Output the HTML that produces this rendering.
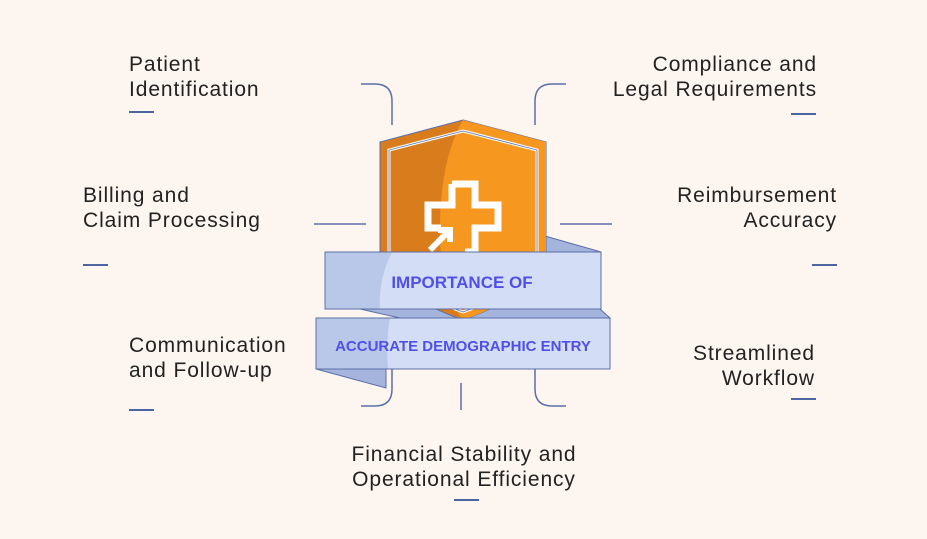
<!DOCTYPE html>
<html><head><meta charset="utf-8"><style>
body{margin:0;width:927px;height:539px;background:#fdf5ef;position:relative;overflow:hidden;font-family:"Liberation Sans",sans-serif;color:#222;}
.t{position:absolute;font-size:21px;line-height:25px;letter-spacing:0.9px;white-space:nowrap}
.r{text-align:right}
.d{position:absolute;height:1.5px;width:25px;background:#4d64a3}
</style></head><body>
<div class="t" style="left:129px;top:52px">Patient<br>Identification</div>
<div class="d" style="left:129px;top:111px"></div>
<div class="t" style="left:83px;top:183px">Billing and<br>Claim Processing</div>
<div class="d" style="left:83px;top:264px"></div>
<div class="t" style="left:129px;top:333px">Communication<br>and Follow-up</div>
<div class="d" style="left:129px;top:409px"></div>
<div class="t r" style="right:110px;top:52px">Compliance and<br>Legal Requirements</div>
<div class="d" style="left:791px;top:113px"></div>
<div class="t r" style="right:90px;top:183px">Reimbursement<br>Accuracy</div>
<div class="d" style="left:812px;top:264px"></div>
<div class="t r" style="right:112px;top:341px">Streamlined<br>Workflow</div>
<div class="d" style="left:791px;top:398px"></div>
<div class="t" style="left:214px;width:500px;text-align:center;top:442px">Financial Stability and<br>Operational Efficiency</div>
<div class="d" style="left:454px;top:499px"></div>
<svg width="927" height="539" style="position:absolute;left:0;top:0">
<g fill="none" stroke="#5a6fa8" stroke-width="1.5">
<path d="M361 84 H375 Q392 84 392 101 V125"/>
<path d="M566 84 H552 Q535 84 535 101 V125"/>
<path d="M314 224 H366"/><path d="M560 224 H612"/>
<path d="M392 365 V389 Q392 406 375 406 H361"/>
<path d="M535 365 V389 Q535 406 552 406 H566"/>
<path d="M461 383 V410"/>
</g>
<polygon points="545,236 601,252 545,252" fill="#a4b4dc" stroke="#5a6fa8" stroke-width="1"/>
<polygon points="360,309 600,309 610,318 400,318" fill="#a4b4dc" stroke="#5a6fa8" stroke-width="1"/>
<path d="M463 120 L546 142 V250 Q546 290 463 320 Q380 290 380 250 V142 Z" fill="#d97d1c" stroke="#5a6fa8" stroke-width="1"/>
<path d="M463 120 L546 142 V250 Q546 290 463 320 Q440 290 440 230 Q440 160 463 120 Z" fill="#f6971f"/>
<path d="M463 131 L537 150 V250 Q537 285 463 312 Q389 285 389 250 V150 Z" fill="none" stroke="#fff" stroke-width="3"/>
<path d="M463 131 L537 150 V250 Q537 285 463 312 Q389 285 389 250 V150 Z" fill="none" stroke="#5a6fa8" stroke-width="0.8"/>
<path d="M452 184 H475 V205 H498 V228 H475 V252 H465 M441 228 H428 V205 H452 V184" fill="none" stroke="#fff" stroke-width="7"/>
<path d="M430 250 L450 230 M438 230 H450 V242" fill="none" stroke="#fff" stroke-width="6"/>
<rect x="325" y="252" width="276" height="57" fill="#d3def6"/>
<path d="M325 252 H392 Q378 280 380 309 H325 Z" fill="#b9c8e8"/>
<rect x="325" y="252" width="276" height="57" fill="none" stroke="#5a6fa8" stroke-width="1"/>
<polygon points="316,369 386,388 386,369" fill="#a4b4dc" stroke="#5a6fa8" stroke-width="1"/>
<rect x="316" y="318" width="294" height="51" fill="#d3def6"/>
<path d="M316 318 H390 Q386 340 388 369 H316 Z" fill="#b9c8e8"/>
<rect x="316" y="318" width="294" height="51" fill="none" stroke="#5a6fa8" stroke-width="1"/>
<text x="462" y="288" text-anchor="middle" font-family="Liberation Sans" font-weight="bold" font-size="17" fill="#5050e8">IMPORTANCE OF</text>
<text x="463" y="351" text-anchor="middle" font-family="Liberation Sans" font-weight="bold" font-size="15" fill="#5050e8">ACCURATE DEMOGRAPHIC ENTRY</text>
</svg>
</body></html>
